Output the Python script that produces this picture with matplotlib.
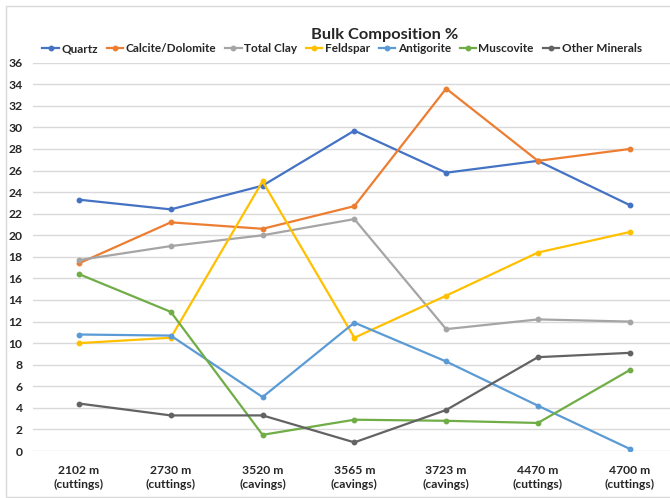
import matplotlib
matplotlib.use("Agg")
import matplotlib.pyplot as plt
from matplotlib.patches import Rectangle
from matplotlib.lines import Line2D

plt.rcParams['font.family'] = ['Lato', 'DejaVu Sans']

depths = ["2102 m\n(cuttings)", "2730 m\n(cuttings)", "3520 m\n(cavings)",
          "3565 m\n(cavings)", "3723 m\n(cavings)", "4470 m\n(cuttings)",
          "4700 m\n(cuttings)"]

quartz = [23.3, 22.4, 24.6, 29.7, 25.8, 26.9, 22.8]
calcite_dolomite = [17.4, 21.2, 20.6, 22.7, 33.6, 26.9, 28.0]
total_clay = [17.7, 19.0, 20.0, 21.5, 11.3, 12.2, 12.0]
feldspar = [10.0, 10.5, 25.0, 10.5, 14.4, 18.4, 20.3]
antigorite = [10.8, 10.7, 5.0, 11.9, 8.3, 4.2, 0.2]
muscovite = [16.4, 12.9, 1.5, 2.9, 2.8, 2.6, 7.5]
other_minerals = [4.4, 3.3, 3.3, 0.8, 3.8, 8.7, 9.1]

series = [
    ("Quartz", quartz, "#4472C4"),
    ("Calcite/Dolomite", calcite_dolomite, "#ED7D31"),
    ("Total Clay", total_clay, "#A5A5A5"),
    ("Feldspar", feldspar, "#FFC000"),
    ("Antigorite", antigorite, "#5B9BD5"),
    ("Muscovite", muscovite, "#70AD47"),
    ("Other Minerals", other_minerals, "#636363"),
]

W, H = 670, 498
fig = plt.figure(figsize=(W / 100, H / 100), dpi=100)

# chart border
fig.patches.append(Rectangle((6 / W, 1 - 496.5 / H), 1.2, (496.5 - 6) / H,
                             transform=fig.transFigure, fill=False,
                             edgecolor="#D9D9D9", linewidth=1.0))

left, right = 33.1, 675.6
top, bottom = 62.7, 451.0
ax = fig.add_axes([left / W, 1 - bottom / H, (right - left) / W, (bottom - top) / H])

x = list(range(len(depths)))
for name, vals, color in series:
    ax.plot(x, vals, color=color, linewidth=1.6, marker="o", markersize=3.2,
            label=name, solid_capstyle="round", solid_joinstyle="round")

ax.set_xlim(-0.5, len(depths) - 0.5)
ax.set_ylim(0, 36)
ax.set_yticks(range(0, 37, 2))
ax.set_xticks(x)
ax.set_xticklabels(depths, fontsize=8.7, fontweight="bold", color="#262626",
                   linespacing=1.35)
for lbl in ax.get_yticklabels():
    lbl.set_fontsize(8.7)
    lbl.set_fontweight("bold")
    lbl.set_color("#262626")
ax.tick_params(axis="both", length=0)
ax.tick_params(axis="y", pad=7.5)
ax.tick_params(axis="x", pad=10)
ax.grid(axis="y", color="#D9D9D9", linewidth=1.0)
ax.set_axisbelow(True)
for s in ax.spines.values():
    s.set_visible(False)

fig.text(385 / W, 1 - 35 / H, "Bulk Composition %", ha="center", va="center",
         fontsize=11.8, fontweight="bold", color="#262626")

handles = [Line2D([0], [0], color=c, linewidth=1.6, marker="o", markersize=3.2)
           for _, _, c in series]
leg = fig.legend(handles, [n for n, _, _ in series], loc="center",
                 bbox_to_anchor=(342 / W, 1 - 48.5 / H), ncol=7, frameon=False,
                 fontsize=8.5, handlelength=1.4, handletextpad=0.2,
                 columnspacing=0.75, borderpad=0)
for t in leg.get_texts():
    t.set_fontweight("bold")
    t.set_color("#262626")

fig.savefig("out.png", dpi=100)
